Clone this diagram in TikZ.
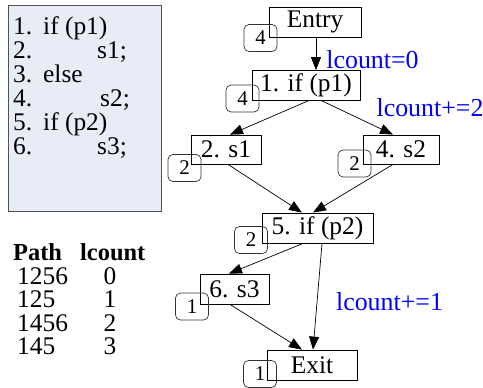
\documentclass[tikz,border=0pt]{standalone}
\usepackage{fontspec}
\setmainfont{Liberation Serif}
\usetikzlibrary{arrows.meta}
\definecolor{codefill}{HTML}{E7ECF7}
\definecolor{codeline}{HTML}{505050}
\begin{document}
\begin{tikzpicture}[x=1bp,y=-1bp,
  every node/.style={font=\fontsize{25.5}{28}\selectfont},
  blk/.style={draw=black,line width=0.8bp,inner sep=0pt,minimum height=30bp},
  badge/.style={draw=black!80,line width=0.7bp,rounded corners=5bp,inner sep=0pt,minimum width=33bp,minimum height=27bp,font=\fontsize{21}{24}\selectfont},
  arr/.style={line width=0.7bp,-{Triangle[length=13bp,width=10bp]}},
  lbl/.style={text=blue,inner sep=0pt,font=\fontsize{26}{28}\selectfont},
  code/.style={anchor=base west,inner sep=0pt},
  tab/.style={anchor=base west,inner sep=0pt},
  tabc/.style={anchor=base,inner sep=0pt}]
\useasboundingbox (0,0) rectangle (483,387);
% code box
\draw[fill=codefill,draw=codeline,line width=0.9bp] (8,5) rectangle (161,211);
\foreach \n/\t/\x [count=\i] in {1./if (p1)/43, 2./s1;/97, 3./else/43, 4./s2;/100, 5./if (p2)/43, 6./s3;/97}{
  \node[code] (cn\i) at (13,{34+24*(\i-1)}) {\n};
  \node[code] (ct\i) at (\x,{34+24*(\i-1)}) {\t};
}
% table
\node[tab,font=\bfseries\fontsize{24.5}{28}\selectfont] (th1) at (13,260) {Path};
\node[tab,font=\bfseries\fontsize{24.5}{28}\selectfont] (th2) at (80,260) {lcount};
\foreach \p/\c/\y [count=\i] in {1256/0/284, 125/1/307.5, 1456/2/331, 145/3/354.5}{
  \node[tab] (tp\i) at (17,\y) {\p};
  \node[tabc] (tc\i) at (110,\y) {\c};
}
% flow graph nodes
\node[blk,minimum width=92bp] (entry) at (315,22) {Entry};
\node[blk,minimum width=108bp] (if1) at (306,85.5) {1. if (p1)};
\node[blk,minimum width=70bp,minimum height=29bp] (s1) at (226,149.5) {2. s1};
\node[blk,minimum width=76bp,minimum height=29bp] (s2) at (401,149.5) {4. s2};
\node[blk,minimum width=111bp] (if2) at (317.5,228) {5. if (p2)};
\node[blk,minimum width=69bp] (s3) at (234.5,289) {6. s3};
\node[blk,minimum width=90bp] (exit) at (312,365) {Exit};
% badges
\node[badge] (bentry) at (260.5,38) {4};
\node[badge] (bif1) at (242.5,98.5) {4};
\node[badge] (bs1) at (184.5,168) {2};
\node[badge] (bs2) at (354.5,163.5) {2};
\node[badge] (bif2) at (251,240) {2};
\node[badge] (bs3) at (192,306.5) {1};
\node[badge] (bexit) at (260,374) {1};
% connectors
\draw[arr] ([xshift=1bp]entry.south) -- ([xshift=1bp]if1.north -| entry.south);
\draw[arr] ([xshift=2bp]if1.south) -- ([xshift=4bp]s1.north);
\draw[arr] ([xshift=16bp]if1.south) -- ([xshift=-8bp]s2.north);
\draw[arr] ([xshift=2bp]s1.south) -- ([xshift=-15.5bp]if2.north);
\draw[arr] ([xshift=-8bp]s2.south) -- ([xshift=-4.5bp]if2.north);
\draw[arr] ([xshift=-14.5bp]if2.south) -- ([xshift=-5.5bp]s3.north);
\draw[arr] ([xshift=4.5bp]if2.south) -- ([xshift=1bp]exit.north);
\draw[arr] ([xshift=-4.5bp]s3.south) -- ([xshift=-10bp]exit.north);
% labels
\node[lbl] (l0) at (372.5,60) {lcount=0};
\node[lbl] (l2) at (430,108) {lcount+=2};
\node[lbl] (l1) at (389.5,302) {lcount+=1};
\end{tikzpicture}
\end{document}
